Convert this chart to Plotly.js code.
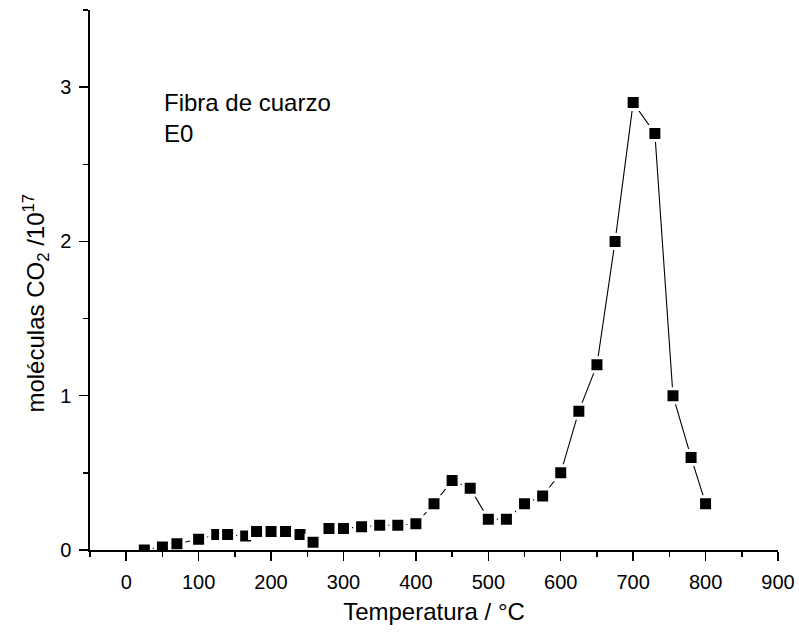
<!DOCTYPE html>
<html>
<head>
<meta charset="utf-8">
<script src="https://cdn.plot.ly/plotly-3.0.1.min.js"></script>
<style>
  html, body { margin: 0; padding: 0; background: #fff; }
  #chart { width: 799px; height: 633px; }
</style>
</head>
<body>
<div id="chart"></div>
<script>
// CO2 desorption profile, quartz fibre sample E0
const temperatura = [25, 50, 70, 100, 125, 140, 165, 180, 200, 220, 240, 258, 280, 300, 325, 350, 375, 400,
                     425, 450, 475, 500, 525, 550, 575, 600, 625, 650, 675, 700, 730, 755, 780, 800];
const moleculas = [0, 0.02, 0.04, 0.07, 0.1, 0.1, 0.09, 0.12, 0.12, 0.12, 0.1, 0.05, 0.14, 0.14, 0.15, 0.16, 0.16, 0.17,
                   0.3, 0.45, 0.4, 0.2, 0.2, 0.3, 0.35, 0.5, 0.9, 1.2, 2.0, 2.9, 2.7, 1.0, 0.6, 0.3];
const xTitle = 'Temperatura / °C';
const yTitle = 'moléculas CO<sub>2</sub> /10<sup>17</sup>';
const etiqueta = 'Fibra de cuarzo<br>E0';

const FONT = 'Arial, "Liberation Sans", sans-serif';

const trace = {
  x: temperatura,
  y: moleculas,
  type: 'scatter',
  mode: 'lines+markers',
  line: { color: '#000', width: 1.1 },
  marker: {
    symbol: 'square',
    size: 14,
    color: '#000',
    line: { color: '#fff', width: 3 }
  },
  hoverinfo: 'x+y'
};

const axisCommon = {
  showline: true,
  linecolor: '#000',
  linewidth: 1.6,
  showgrid: false,
  zeroline: false,
  ticks: 'outside',
  ticklen: 9,
  tickwidth: 1.5,
  tickcolor: '#000',
  tickfont: { family: FONT, size: 20, color: '#000' },
  mirror: false
};

const layout = {
  width: 799,
  height: 633,
  margin: { l: 90, r: 21, t: 10, b: 83 },
  paper_bgcolor: '#fff',
  plot_bgcolor: '#fff',
  showlegend: false,
  font: { family: FONT, color: '#000' },
  xaxis: Object.assign({}, axisCommon, {
    range: [-50, 900],
    tick0: 0,
    dtick: 100,
    ticklabelstandoff: 4,
    minor: { dtick: 50, tick0: 0, ticks: 'outside', ticklen: 5, tickwidth: 1.5, tickcolor: '#000', showgrid: false },
    title: { text: xTitle, font: { family: FONT, size: 24, color: '#000' }, standoff: 11 }
  }),
  yaxis: Object.assign({}, axisCommon, {
    range: [0, 3.5],
    tick0: 0,
    dtick: 1,
    ticklabelstandoff: 4,
    minor: { dtick: 0.5, tick0: 0, ticks: 'outside', ticklen: 5, tickwidth: 1.5, tickcolor: '#000', showgrid: false }
  }),
  annotations: [
    {
      text: etiqueta,
      xref: 'x', yref: 'y',
      x: 50, y: 3.0,
      xanchor: 'left', yanchor: 'top',
      align: 'left',
      showarrow: false,
      font: { family: FONT, size: 24, color: '#000' }
    },
    {
      text: yTitle,
      xref: 'paper', yref: 'paper',
      x: -0.078, y: 0.457,
      xanchor: 'center', yanchor: 'middle',
      textangle: -90,
      showarrow: false,
      font: { family: FONT, size: 24, color: '#000' }
    }
  ]
};

Plotly.newPlot('chart', [trace], layout, { displayModeBar: false, staticPlot: true });
</script>
</body>
</html>
